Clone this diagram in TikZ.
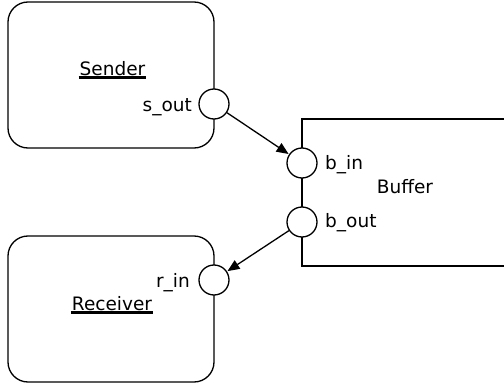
\documentclass[tikz,border=0pt]{standalone}
\usepackage{fontspec}
\setmainfont{DejaVu Sans}
\usetikzlibrary{arrows.meta}
\begin{document}
\begin{tikzpicture}[x=1pt,y=-1pt,
  every node/.style={font=\fontsize{18.5}{22}\selectfont, inner sep=0pt},
  part/.style={draw, line width=1.3pt, rounded corners=20pt},
  port/.style={draw, line width=1.3pt, fill=white, circle, minimum size=30pt},
  lbl/.style={anchor=base},
  uline/.style={line width=2.2pt},
  flow/.style={line width=1.3pt, -{Triangle[length=12pt,width=10pt]}, shorten >=0.5pt}]
  \useasboundingbox (0,0) rectangle (504,388);

  % components
  \draw[part] (8,2) rectangle (214,148);
  \draw[part] (8,236) rectangle (214,382);
  \draw[line width=1.3pt] (520,119) -- (302,119) -- (302,266) -- (520,266);

  % part names
  \node[lbl] (sender) at (112.5,75.5) {Sender};
  \draw[uline] ([xshift=-1pt,yshift=-2pt]sender.base west) -- ([xshift=1pt,yshift=-2pt]sender.base east);
  \node[lbl] (receiver) at (112,310.5) {Receiver};
  \draw[uline] ([xshift=-1pt,yshift=-2pt]receiver.base west) -- ([xshift=1pt,yshift=-2pt]receiver.base east);
  \node[lbl] (buffer) at (405,193) {Buffer};

  % ports
  \node[port] (sout) at (214,104) {};
  \node[port] (rin) at (214,280) {};
  \node[port] (bin) at (302,163) {};
  \node[port] (bout) at (302,222) {};

  % port labels
  \node[anchor=base east] (soutl) at (192,111) {s\_out};
  \node[anchor=base east] (rinl) at (190,287) {r\_in};
  \node[anchor=base west] (binl) at (325,169) {b\_in};
  \node[anchor=base west] (boutl) at (325,227) {b\_out};

  % connectors
  \draw[flow] (sout) -- (bin);
  \draw[flow] (bout) -- (rin);
\end{tikzpicture}
\end{document}
